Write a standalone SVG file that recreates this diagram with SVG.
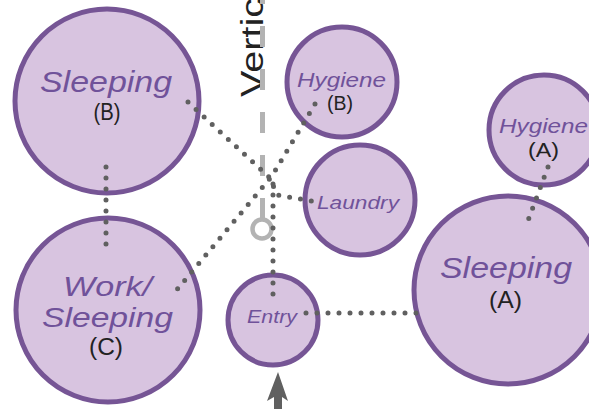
<svg xmlns="http://www.w3.org/2000/svg" width="589" height="409" viewBox="0 0 589 409">
<style>
.node circle{fill:#d8c4e0;stroke:#765595;stroke-width:5}
.t{font-family:"Liberation Sans",Arial,sans-serif;font-style:italic;fill:#70529a;text-anchor:middle}
.s{font-family:"Liberation Sans",Arial,sans-serif;fill:#222;text-anchor:middle}
.dot{fill:none;stroke:#606060;stroke-width:5;stroke-linecap:round;stroke-linejoin:round;stroke-dasharray:0 11}
</style>
<rect width="589" height="409" fill="#fff"/>
<g id="vertical">
<text class="s" transform="translate(263,97) rotate(-90)" style="text-anchor:start" font-size="32" textLength="99" lengthAdjust="spacingAndGlyphs">Vertic</text>
<line x1="262.5" y1="219" x2="262.5" y2="0" stroke="#b3b3b3" stroke-width="5" stroke-dasharray="21 22"/>
<circle cx="262" cy="229" r="9.5" fill="none" stroke="#b3b3b3" stroke-width="4.5"/>
</g>
<g id="sleepingB" class="node"><circle cx="107" cy="101" r="92"/></g>
<g id="workC" class="node"><circle cx="108" cy="310" r="92"/></g>
<g id="hygieneB" class="node"><circle cx="342" cy="82" r="55"/></g>
<g id="laundry" class="node"><circle cx="360" cy="200" r="55"/></g>
<g id="hygieneA" class="node"><circle cx="544" cy="130" r="55"/></g>
<g id="sleepingA" class="node"><circle cx="508" cy="290" r="94"/></g>
<g id="entry" class="node"><circle cx="273" cy="320" r="45"/></g>
<g id="connectors">
<path class="dot" d="M188,102 L270,178 L277,195 L317,202"/>
<path class="dot" d="M315,104 L272,176 L175,292"/>
<path class="dot" d="M273,294 L273,183"/>
<path class="dot" d="M306,313 L427,313"/>
<path class="dot" d="M106,167 L106,245"/>
<path class="dot" d="M548,167 L526,226"/>
<polygon points="278,372 288,401 282,397 282,409 274,409 274,397 267,401" fill="#606060"/>
</g>
<g id="labels">
<text class="t" x="106" y="92" font-size="30" textLength="132" lengthAdjust="spacingAndGlyphs">Sleeping</text>
<text class="s" x="107" y="120" font-size="24" textLength="27" lengthAdjust="spacingAndGlyphs">(B)</text>
<text class="t" x="341.5" y="87" font-size="21" textLength="89" lengthAdjust="spacingAndGlyphs">Hygiene</text>
<text class="s" x="340" y="110" font-size="20" textLength="26" lengthAdjust="spacingAndGlyphs">(B)</text>
<text class="t" x="543.5" y="133" font-size="21" textLength="89" lengthAdjust="spacingAndGlyphs">Hygiene</text>
<text class="s" x="543.5" y="157" font-size="21" textLength="31" lengthAdjust="spacingAndGlyphs">(A)</text>
<text class="t" x="358" y="209" font-size="19" textLength="82" lengthAdjust="spacingAndGlyphs">Laundry</text>
<text class="t" x="506" y="278" font-size="30" textLength="132" lengthAdjust="spacingAndGlyphs">Sleeping</text>
<text class="s" x="505.5" y="308" font-size="24" textLength="33" lengthAdjust="spacingAndGlyphs">(A)</text>
<text class="t" x="107.5" y="296" font-size="28" textLength="89" lengthAdjust="spacingAndGlyphs">Work/</text>
<text class="t" x="107.5" y="327" font-size="28" textLength="131" lengthAdjust="spacingAndGlyphs">Sleeping</text>
<text class="s" x="106" y="355" font-size="23" textLength="34" lengthAdjust="spacingAndGlyphs">(C)</text>
<text class="t" x="272" y="323" font-size="18" textLength="50" lengthAdjust="spacingAndGlyphs">Entry</text>
</g>
</svg>
